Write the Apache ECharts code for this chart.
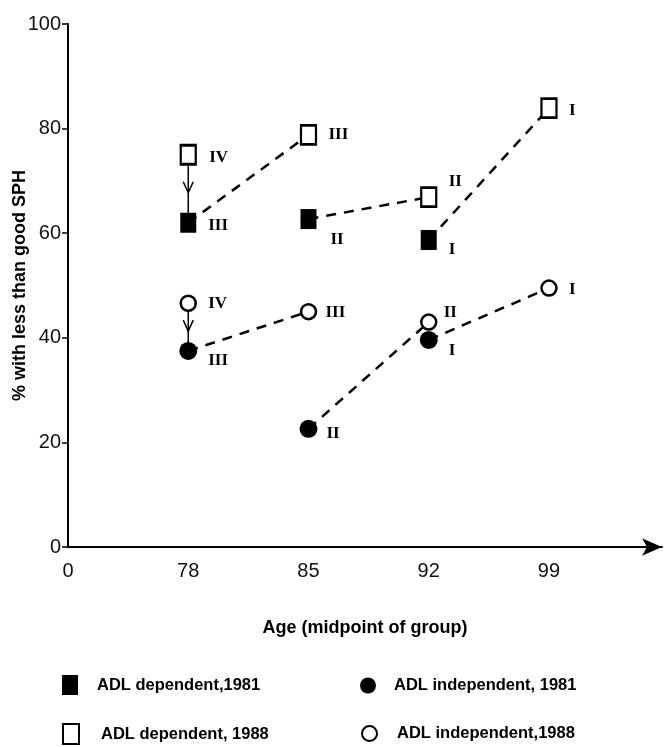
<!DOCTYPE html>
<html>
<head>
<meta charset="utf-8">
<script src="https://cdn.jsdelivr.net/npm/echarts@6/dist/echarts.min.js"></script>
<style>
  html, body { margin: 0; padding: 0; background: #fff; }
  #chart { width: 672px; height: 747px; }
</style>
</head>
<body>
<div id="chart"></div>
<script>
// age groups (midpoint), x position = index
var ageLabels = ['0', '78', '85', '92', '99'];

// % with less than good SPH
var dep1981 = [62, 62.7, 58.7];          // ages 78, 85, 92
var dep1988 = [75, 78.8, 66.9, 83.9];    // ages 78, 85, 92, 99
var ind1981 = [37.5, 22.6, 39.6];
var ind1988 = [46.6, 45, 43, 49.5];

// cohort labels next to the points
var dep1981Tags = ['III', 'II', 'I'];
var dep1988Tags = ['IV', 'III', 'II', 'I'];
var ind1981Tags = ['III', 'II', 'I'];
var ind1988Tags = ['IV', 'III', 'II', 'I'];

var seriesNames = ['ADL dependent,1981', 'ADL dependent, 1988', 'ADL independent, 1981', 'ADL independent,1988'];

var SANS = '"Liberation Sans", Arial, Helvetica, sans-serif';
var SERIF = '"Liberation Serif", "Times New Roman", serif';

// label offsets from point centre (style only)
var tagOffsets = {
	dep1981: [[20, 3], [22, 21], [20, 10]],
	dep1988: [[21, 3], [20, 0], [20, -16], [20, 2]],
	ind1981: [[20, 10], [18, 5], [20, 11]],
	ind1988: [[20, 0], [17, 1], [15, -10], [20, 1]]
};

function points(values, tags, offsets){
	var out = [];
	for (var i = 0; i < values.length; i++) {
		out.push({
			value: [i + 1, values[i]],
			label: { formatter: tags[i], offset: offsets[i] }
		});
	}
	return out;
}

// dashed lines: 1981 value at age i -> 1988 value at next age
function connectors(y1981, y1988){
	var out = [];
	for (var i = 0; i < y1981.length; i++) {
		out.push({ coords: [[i + 1, y1981[i]], [i + 2, y1988[i + 1]]] });
	}
	return out;
}

function legendItem(name, left, top, w, h, gap){
	return {
		data: [name],
		left: left, top: top,
		padding: 0,
		itemWidth: w, itemHeight: h,
		textStyle: {
			fontFamily: SANS, fontWeight: 'bold', fontSize: 16.5, color: '#000',
			padding: [0, 0, 0, gap - 5]
		}
	};
}

var tagLabel = {
	show: true,
	position: 'inside',
	align: 'left',
	verticalAlign: 'middle',
	color: '#000',
	fontFamily: SERIF,
	fontWeight: 'bold',
	fontSize: 17
};

var chart = echarts.init(document.getElementById('chart'));

var option = {
	animation: false,
	backgroundColor: '#fff',
	grid: { left: 68, right: 10, top: 24, bottom: 200, containLabel: false, outerBoundsMode: 'none' },
	xAxis: {
		type: 'value',
		min: 0,
		max: 4.94,
		interval: 1,
		name: 'Age (midpoint of group)',
		nameLocation: 'middle',
		nameGap: 72,
		nameMoveOverlap: false,
		nameTextStyle: { fontFamily: SANS, fontWeight: 'bold', fontSize: 18, color: '#000' },
		axisLine: { show: true, symbol: ['none', 'arrow'], symbolSize: [13, 20], lineStyle: { color: '#000', width: 2 } },
		axisTick: { show: false },
		splitLine: { show: false },
		axisLabel: {
			showMaxLabel: false,
			margin: 14,
			fontFamily: SANS, fontSize: 20, color: '#111',
			formatter: function(v){
				return ageLabels[v] !== undefined && v === Math.round(v) ? ageLabels[v] : '';
			}
		}
	},
	yAxis: {
		type: 'value',
		min: 0,
		max: 100,
		interval: 20,
		name: '% with less than good SPH',
		nameLocation: 'middle',
		nameGap: 39,
		nameMoveOverlap: false,
		nameTextStyle: { fontFamily: SANS, fontWeight: 'bold', fontSize: 18, color: '#000' },
		axisLine: { show: true, lineStyle: { color: '#000', width: 2 } },
		axisTick: { show: true, inside: false, length: 6, lineStyle: { color: '#000', width: 1.5 } },
		splitLine: { show: false },
		axisLabel: { margin: 7, fontFamily: SANS, fontSize: 20, color: '#111' }
	},
	legend: [
		legendItem(seriesNames[0], 62, 675, 16, 20, 19),
		legendItem(seriesNames[1], 62, 723, 16, 20, 22),
		legendItem(seriesNames[2], 360, 677, 16, 16, 18),
		legendItem(seriesNames[3], 361, 725, 15, 15, 20)
	],
	series: [{
		type: 'lines',
		coordinateSystem: 'cartesian2d',
		silent: true,
		z: 1,
		lineStyle: { color: '#000', width: 2.5, type: [10, 8], opacity: 1 },
		data: connectors(dep1981, dep1988).concat(connectors(ind1981, ind1988))
	}, {
		// vertical arrows 1988 -> 1981 at the youngest age
		type: 'custom',
		silent: true,
		z: 1,
		data: [[1, dep1988[0], dep1981[0]], [1, ind1988[0], ind1981[0]]],
		renderItem: function(params, api){
			var p1 = api.coord([api.value(0), api.value(1)]);
			var p2 = api.coord([api.value(0), api.value(2)]);
			var mx = p1[0], my = (p1[1] + p2[1]) / 2 + 4;
			return {
				type: 'group',
				children: [{
					type: 'line',
					shape: { x1: p1[0], y1: p1[1], x2: p2[0], y2: p2[1] },
					style: { stroke: '#000', lineWidth: 1.5 }
				}, {
					type: 'polyline',
					shape: { points: [[mx - 5, my - 11], [mx, my], [mx + 5, my - 11]] },
					style: { stroke: '#000', lineWidth: 1.5, fill: null }
				}]
			};
		}
	}, {
		name: seriesNames[0],
		type: 'scatter',
		symbol: 'rect',
		symbolSize: [16, 20],
		z: 3,
		itemStyle: { color: '#000', opacity: 1 },
		label: tagLabel,
		data: points(dep1981, dep1981Tags, tagOffsets.dep1981)
	}, {
		name: seriesNames[1],
		type: 'scatter',
		symbol: 'rect',
		symbolSize: [15, 19],
		z: 3,
		itemStyle: { color: '#fff', borderColor: '#000', borderWidth: 2.5, opacity: 1 },
		label: tagLabel,
		data: points(dep1988, dep1988Tags, tagOffsets.dep1988)
	}, {
		name: seriesNames[2],
		type: 'scatter',
		symbol: 'circle',
		symbolSize: 18,
		z: 3,
		itemStyle: { color: '#000', opacity: 1 },
		label: tagLabel,
		data: points(ind1981, ind1981Tags, tagOffsets.ind1981)
	}, {
		name: seriesNames[3],
		type: 'scatter',
		symbol: 'circle',
		symbolSize: 15,
		z: 3,
		itemStyle: { color: '#fff', borderColor: '#000', borderWidth: 2.5, opacity: 1 },
		label: tagLabel,
		data: points(ind1988, ind1988Tags, tagOffsets.ind1988)
	}]
};

chart.setOption(option);
</script>
</body>
</html>
